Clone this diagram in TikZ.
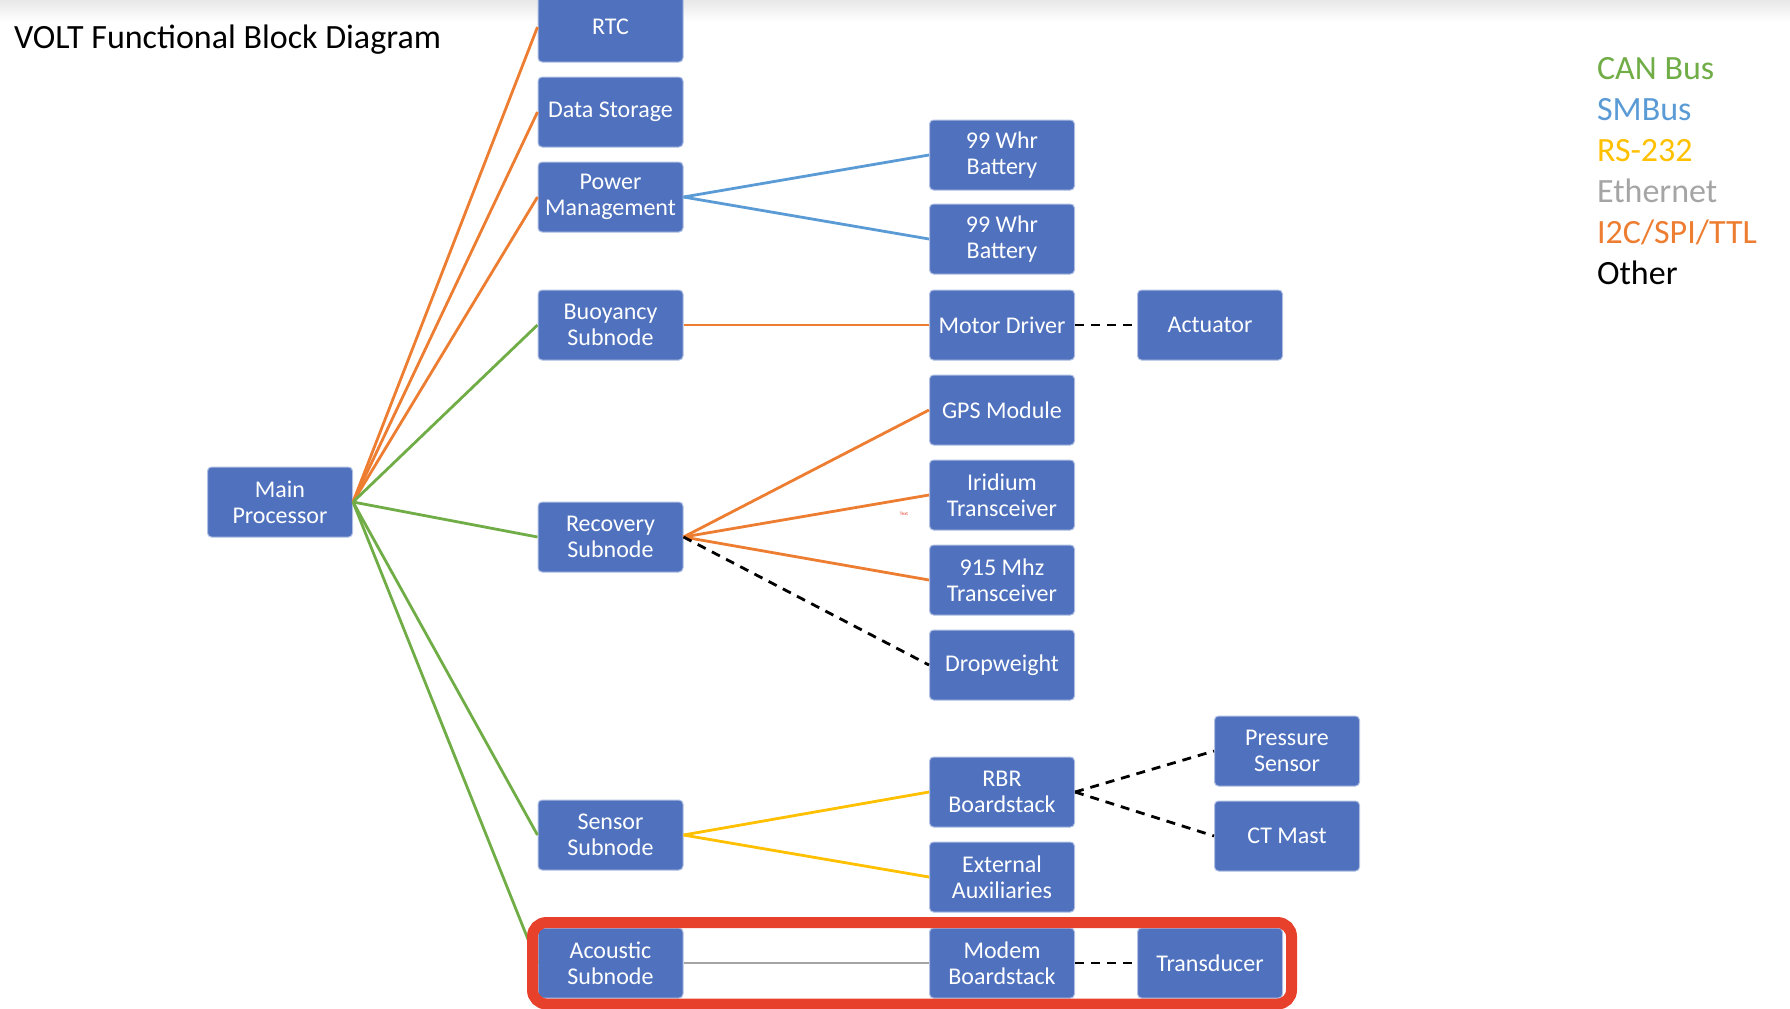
\documentclass[tikz,border=0pt]{standalone}
\usepackage{fontspec}
\setmainfont{Carlito}
\usepackage{tikz}
\definecolor{boxblue}{HTML}{4F71BE}
\definecolor{canbus}{HTML}{70AD47}
\definecolor{smbus}{HTML}{5B9BD5}
\definecolor{rstwo}{HTML}{FFC000}
\definecolor{ether}{HTML}{A5A5A5}
\definecolor{ictwo}{HTML}{ED7D31}
\definecolor{hilite}{RGB}{232,65,43}

\begin{document}
\begin{tikzpicture}[x=0.5pt,y=-0.5pt,
  blk/.style={rectangle,rounded corners=2pt,fill=boxblue,draw=boxblue!45!white,line width=0.5pt,
    text=white,minimum width=72.5pt,minimum height=35pt,inner sep=1pt,align=center,
    font=\fontsize{12}{13}\selectfont},
  link/.style={line width=1.4pt},
  other/.style={line width=1.4pt,dash pattern=on 4.5pt off 3.5pt},
  big/.style={font=\fontsize{17}{20}\selectfont}]
\useasboundingbox (0,0) rectangle (1790,1008);
\clip (0,0) rectangle (1790,1008);
\shade[top color=black!9,bottom color=white] (0,0) rectangle (1790,22);

\node[big,anchor=base west] (title) at (7,48) {VOLT Functional Block Diagram};

\node[blk] (main) at (280,502) {Main\\Processor};

\node[blk] (rtc) at (610.5,27) {RTC};
\node[blk] (store) at (610.5,112) {Data Storage};
\node[blk] (power) at (610.5,197) {Power\\Management};
\node[blk] (buoy) at (610.5,325) {Buoyancy\\Subnode};
\node[blk] (recov) at (610.5,537) {Recovery\\Subnode};
\node[blk] (sensor) at (610.5,835) {Sensor\\Subnode};
\node[blk] (acoust) at (610.5,963) {Acoustic\\Subnode};

\node[blk] (batA) at (1002,155) {99 Whr\\Battery};
\node[blk] (batB) at (1002,239) {99 Whr\\Battery};
\node[blk] (motor) at (1002,325) {Motor Driver};
\node[blk] (gps) at (1002,410) {GPS Module};
\node[blk] (irid) at (1002,495) {Iridium\\Transceiver};
\node[blk] (radio) at (1002,580) {915 Mhz\\Transceiver};
\node[blk] (drop) at (1002,665) {Dropweight};
\node[blk] (rbr) at (1002,792) {RBR\\Boardstack};
\node[blk] (extaux) at (1002,877) {External\\Auxiliaries};
\node[blk] (modem) at (1002,963) {Modem\\Boardstack};

\node[blk] (act) at (1210,325) {Actuator};
\node[blk] (transd) at (1210,963) {Transducer};
\node[blk] (press) at (1287,751) {Pressure\\Sensor};
\node[blk] (ctmast) at (1287,836) {CT Mast};

% main processor links
\draw[link,ictwo] (main.east) -- (rtc.west);
\draw[link,ictwo] (main.east) -- (store.west);
\draw[link,ictwo] (main.east) -- (power.west);
\draw[link,canbus] (main.east) -- (buoy.west);
\draw[link,canbus] (main.east) -- (recov.west);
\draw[link,canbus] (main.east) -- (sensor.west);
\draw[link,canbus] (main.east) -- (acoust.west);

% subnode links
\draw[link,smbus] (power.east) -- (batA.west);
\draw[link,smbus] (power.east) -- (batB.west);
\draw[link,ictwo] (buoy.east) -- (motor.west);
\draw[other] (motor.east) -- (act.west);
\draw[link,ictwo] (recov.east) -- (gps.west);
\draw[link,ictwo] (recov.east) -- (irid.west);
\draw[link,ictwo] (recov.east) -- (radio.west);
\draw[other] (recov.east) -- (drop.west);
\draw[link,rstwo] (sensor.east) -- (rbr.west);
\draw[link,rstwo] (sensor.east) -- (extaux.west);
\draw[other] (rbr.east) -- (press.west);
\draw[other] (rbr.east) -- (ctmast.west);
\draw[link,ether] (acoust.east) -- (modem.west);
\draw[other] (modem.east) -- (transd.west);

\node[text=hilite,font=\fontsize{2.5}{3}\selectfont,inner sep=0pt] (stray) at (904,514) {Text};

\draw[hilite,line width=5.5pt,rounded corners=7pt] (532.5,922.5) rectangle (1291.5,1004);

% legend
\node[big,anchor=base west,text=canbus] (lgcan) at (1590,79) {CAN Bus};
\node[big,anchor=base west,text=smbus] (lgsm) at (1590,120) {SMBus};
\node[big,anchor=base west,text=rstwo] (lgrs) at (1590,161) {RS-232};
\node[big,anchor=base west,text=ether] (lgeth) at (1590,202) {Ethernet};
\node[big,anchor=base west,text=ictwo] (lgic) at (1590,243) {I2C/SPI/TTL};
\node[big,anchor=base west] (lgoth) at (1590,284) {Other};
\end{tikzpicture}
\end{document}
